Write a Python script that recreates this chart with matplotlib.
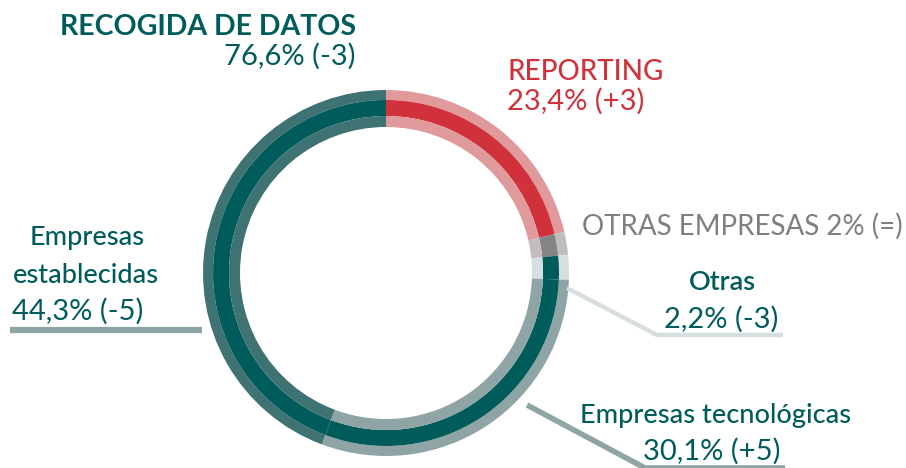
import matplotlib
matplotlib.use("Agg")
import matplotlib.pyplot as plt

# ---- data ----
group_names = ["RECOGIDA DE DATOS", "REPORTING"]
group_pct = [76.6, 23.4]
group_delta = ["-3", "+3"]

# sub-slices, clockwise from 12 o'clock
sub_names = ["Reporting", "OTRAS EMPRESAS", "Otras", "Empresas tecnológicas", "Empresas establecidas"]
otras_empresas_pct = 2.0
sub_pct = [group_pct[1] - otras_empresas_pct, otras_empresas_pct, 2.2, 30.1, 44.3]
sub_delta = ["", "=", "-3", "+5", "-5"]

mid_colors = ["#d0313a", "#848484", "#005b5b", "#005b5b", "#005b5b"]
thin_colors = ["#e09a9c", "#c2bdbd", "#d6dfdf", "#8fa5a5", "#3f7272"]

TEAL = "#005b5b"
RED = "#d0313a"
GRAY = "#7f7f7f"

W, H = 906, 468
fig = plt.figure(figsize=(W / 100, H / 100), dpi=100)
ax = fig.add_axes([0, 0, 1, 1])


def Y(y):
    return H - y


cx, cy = 386, Y(273)
rings = [(183, 10, thin_colors), (173, 16, mid_colors), (157, 11, thin_colors)]
for r, w, cols in rings:
    ax.pie(sub_pct, radius=r, center=(cx, cy), colors=cols, startangle=90,
           counterclock=False, wedgeprops=dict(width=w, linewidth=0))
ax.set_xlim(0, W)
ax.set_ylim(0, H)
ax.set_aspect("equal")
ax.axis("off")

# leader lines
ax.plot([10, 202], [Y(330), Y(330)], color="#8fa5a5", lw=4.5, solid_capstyle="butt")
ax.plot([567, 657, 783], [Y(288), Y(335), Y(335)], color="#d6dfdf", lw=3.2,
        solid_capstyle="butt", solid_joinstyle="miter")
ax.plot([527, 645, 785], [Y(405), Y(468), Y(468)], color="#8fa5a5", lw=4.0,
        solid_capstyle="butt", solid_joinstyle="miter")

FONT = ["Lato", "DejaVu Sans"]


def fmt(v):
    s = f"{v:.1f}".replace(".", ",")
    if s.endswith(",0"):
        s = s[:-2]
    return s


def txt(x, y, s, color, size, ha="left", weight="normal"):
    ax.text(x, Y(y), s, color=color, fontsize=size, ha=ha, va="baseline",
            family=FONT, fontweight=weight)


NUM = 21
LAB = 19.5
# group labels
txt(356, 35, group_names[0], TEAL, 20.5, ha="right", weight="bold")
txt(356, 65, f"{fmt(group_pct[0])}% ({group_delta[0]})", TEAL, NUM, ha="right")
txt(507, 80, group_names[1], RED, 20, weight="medium")
txt(507, 110, f"{fmt(group_pct[1])}% ({group_delta[1]})", RED, NUM)

# sub labels
txt(582, 235, f"{sub_names[1]} {fmt(sub_pct[1])}% ({sub_delta[1]})", GRAY, 20)
txt(722, 290, sub_names[2], TEAL, LAB, ha="center", weight="semibold")
txt(721, 328, f"{fmt(sub_pct[2])}% ({sub_delta[2]})", TEAL, NUM, ha="center")
txt(716, 423, sub_names[3], TEAL, LAB, ha="center", weight="medium")
txt(712, 460, f"{fmt(sub_pct[3])}% ({sub_delta[3]})", TEAL, NUM, ha="center")
est_words = sub_names[4].split(" ")
txt(87, 245, est_words[0], TEAL, LAB, ha="center", weight="medium")
txt(86, 283, est_words[1], TEAL, LAB, ha="center", weight="medium")
txt(12, 320, f"{fmt(sub_pct[4])}% ({sub_delta[4]})", TEAL, NUM)

fig.savefig("out.png", dpi=100)
